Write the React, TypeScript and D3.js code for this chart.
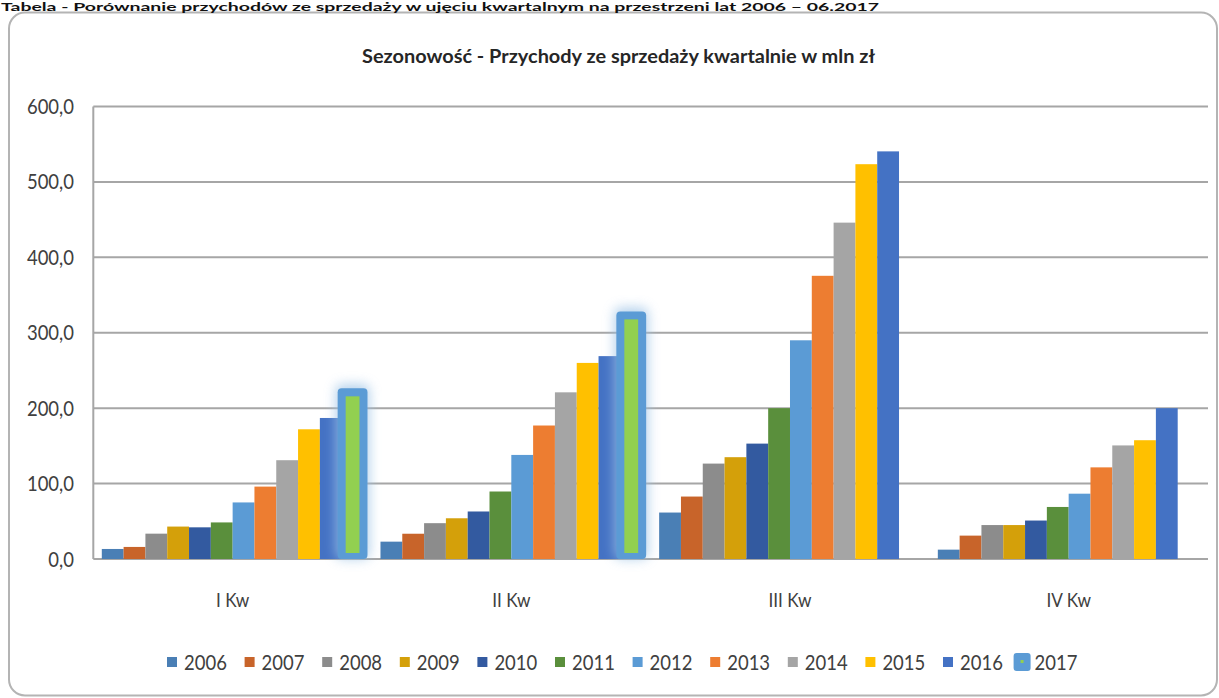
import React from "react";
import * as d3 from "d3";

const categories = ["I Kw", "II Kw", "III Kw", "IV Kw"];
const years = ["2006", "2007", "2008", "2009", "2010", "2011", "2012", "2013", "2014", "2015", "2016", "2017"];
// values per year, one entry per quarter (I, II, III, IV)
const v2006 = [13.3, 23, 61.6, 12.4];
const v2007 = [16, 33.5, 82.8, 31];
const v2008 = [33.6, 47.5, 126.5, 45];
const v2009 = [43, 54, 135, 45];
const v2010 = [42, 63, 153, 51];
const v2011 = [48.5, 89.5, 200, 69];
const v2012 = [75, 138, 290, 86.6];
const v2013 = [96, 177, 375.5, 121.5];
const v2014 = [131, 221, 446, 150.6];
const v2015 = [172, 260, 523.5, 157.5];
const v2016 = [187, 269, 540.5, 200];
const v2017: (number | null)[] = [221, 323, null, null];
const seriesValues: (number | null)[][] = [v2006, v2007, v2008, v2009, v2010, v2011, v2012, v2013, v2014, v2015, v2016, v2017];
const yTicks = [0, 100, 200, 300, 400, 500, 600];

const colors = ["#4a7fb5", "#c8642a", "#8c8c8c", "#d4a00a", "#335aa0", "#5a8f3c", "#5b9bd5", "#ed7d31", "#a5a5a5", "#ffc000", "#4472c4", "#92d050"];
const highlightStroke = "#5b9bd5";

const W = 1219;
const H = 698;
const plot = { left: 93.3, right: 1208, top: 106.5, bottom: 559 };
const FONT = "Lato, 'Open Sans', sans-serif";
const SX = 0.86;

function CText(props: { x: number; y: number; anchor?: string; size: number; weight?: number; fill?: string; children: React.ReactNode }) {
  const { x, y, anchor = "start", size, weight = 400, fill = "#404040", children } = props;
  return (
    <text
      transform={`translate(${x},${y}) scale(${SX},1)`}
      textAnchor={anchor}
      fontSize={size}
      fontWeight={weight}
      fontFamily={FONT}
      fill={fill}
    >
      {children}
    </text>
  );
}

export default function App() {
  const y = d3.scaleLinear().domain([0, 600]).range([plot.bottom, plot.top]);
  const x0 = d3.scaleBand<string>().domain(categories).range([plot.left, plot.right]).padding(0);
  const cw = x0.bandwidth();
  const gap = 17;
  const x1 = d3.scaleBand<string>().domain(years).range([gap / 2, cw - gap / 2]).padding(0);
  const bw = x1.bandwidth();

  const legendStart = 167;
  const legendStep = 77.6;
  const legendY = 662;

  return (
    <svg width={W} height={H} style={{ position: "absolute", left: 0, top: 0, background: "#fff" }}>
      <defs>
        <filter id="glow" x="-100%" y="-20%" width="300%" height="140%">
          <feGaussianBlur stdDeviation="6" />
        </filter>
      </defs>
      <rect x={0} y={0} width={W} height={H} fill="#fff" />
      <rect x={9} y={12.5} width={1208} height={683} rx={16} fill="#fff" stroke="#b4b4b4" strokeWidth={2} />
      <text
        x={1}
        y={11}
        fontSize={11}
        fontWeight={700}
        fontFamily={FONT}
        fill="#111"
        textLength={878}
        lengthAdjust="spacingAndGlyphs"
      >
        Tabela  - Porównanie przychodów ze sprzedaży w ujęciu kwartalnym na przestrzeni lat 2006 – 06.2017
      </text>

      <text
        x={362}
        y={63}
        fontSize={19}
        fontWeight={700}
        fontFamily={FONT}
        fill="#262626"
        textLength={513}
        lengthAdjust="spacingAndGlyphs"
      >
        Sezonowość  - Przychody ze sprzedaży kwartalnie  w mln zł
      </text>

      {/* gridlines */}
      {yTicks.map((t) => (
        <line key={t} x1={plot.left} x2={plot.right} y1={y(t)} y2={y(t)} stroke="#a6a6a6" strokeWidth={2} />
      ))}
      <line x1={plot.left} x2={plot.left} y1={y(600)} y2={y(0)} stroke="#a6a6a6" strokeWidth={2} />

      {yTicks.map((t) => (
        <CText key={t} x={74} y={y(t) + 7.5} anchor="end" size={21.5}>
          {d3.format(".1f")(t).replace(".", ",")}
        </CText>
      ))}

      {/* bars */}
      {categories.map((c, ci) => (
        <g key={c} transform={`translate(${x0(c)},0)`}>
          {years.map((yr, si) => {
            const v = seriesValues[si][ci];
            if (v == null) return null;
            const bx = x1(yr)!;
            if (si === years.length - 1) {
              const top = y(v);
              return (
                <g key={yr}>
                  <rect x={bx - 6} y={top - 8} width={bw + 12} height={y(0) - top + 8} rx={6} fill="#9dc3e6" opacity={0.75} filter="url(#glow)" />
                  <rect x={bx - 4} y={top - 4} width={bw + 8} height={y(0) - top + 4} rx={4} fill={highlightStroke} />
                  <rect x={bx + 4} y={top + 4} width={bw - 8} height={y(0) - top - 10} fill={colors[si]} />
                </g>
              );
            }
            return <rect key={yr} x={bx} y={y(v)} width={bw} height={y(0) - y(v)} fill={colors[si]} />;
          })}
        </g>
      ))}

      {/* category labels */}
      {categories.map((c) => (
        <CText key={c} x={x0(c)! + cw / 2} y={607} anchor="middle" size={20}>
          {c}
        </CText>
      ))}

      {/* legend */}
      {years.map((yr, i) => {
        const lx = legendStart + i * legendStep;
        const last = i === years.length - 1;
        return (
          <g key={yr}>
            {last ? (
              <g>
                <rect x={lx - 7} y={legendY - 9} width={17} height={18} rx={3} fill={highlightStroke} />
                <rect x={lx} y={legendY - 2} width={3} height={3} fill={colors[i]} />
              </g>
            ) : (
              <rect x={lx} y={legendY - 5} width={10} height={10} fill={colors[i]} />
            )}
            <CText x={lx + (last ? 14 : 17)} y={legendY + 8} size={21.5}>
              {yr}
            </CText>
          </g>
        );
      })}
    </svg>
  );
}
